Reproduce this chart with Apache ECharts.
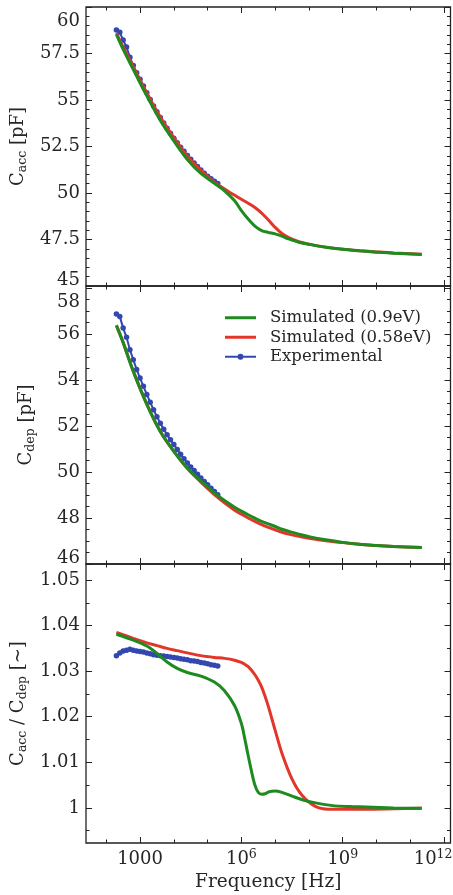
<!DOCTYPE html>
<html><head><meta charset="utf-8">
<script src="https://cdn.jsdelivr.net/npm/echarts@6/dist/echarts.min.js"></script>
<style>html,body{margin:0;padding:0;background:#fff}#c{width:453px;height:895px}</style>
</head><body><div id="c"></div><script>
// ---- data (frequencies given as log10(Hz)) ----
const expLogF = [2.3,2.4,2.5,2.6,2.7,2.8,2.9,3.0,3.1,3.2,3.3,3.4,3.5,3.6,3.7,3.8,3.9,4.0,4.1,4.2,4.3,4.4,4.5,4.6,4.7,4.8,4.9,5.0,5.1,5.2,5.3];
const expCacc = [58.76,58.64,58.22,57.85,57.30,56.85,56.47,56.11,55.75,55.39,55.03,54.68,54.37,54.06,53.77,53.48,53.21,52.94,52.70,52.46,52.24,52.02,51.81,51.61,51.42,51.23,51.06,50.90,50.76,50.63,50.51];
const expCdep = [56.86,56.76,56.25,55.85,55.31,54.88,54.45,54.08,53.72,53.37,53.03,52.70,52.40,52.12,51.86,51.62,51.40,51.19,50.98,50.77,50.57,50.39,50.22,50.06,49.90,49.74,49.59,49.44,49.29,49.15,49.01];
const expRatio = [1.0334,1.0340,1.0344,1.0346,1.0348,1.0346,1.0344,1.0343,1.0342,1.0340,1.0338,1.0336,1.0335,1.0334,1.0333,1.0332,1.0331,1.0330,1.0329,1.0327,1.0326,1.0325,1.0323,1.0322,1.0321,1.0319,1.0318,1.0316,1.0314,1.0313,1.0311];

const simLogF = [2.3,2.5,2.8,3.2,3.6,4.0,4.4,4.8,5.2,5.5,5.8,6.0,6.2,6.4,6.6,6.8,7.0,7.2,7.4,7.7,8.0,8.5,9.0,9.5,10.0,10.5,11.34];
const simCacc09  = [58.53,57.72,56.64,55.22,53.90,52.80,51.80,51.05,50.52,50.12,49.58,49.05,48.60,48.22,47.98,47.88,47.80,47.68,47.53,47.35,47.24,47.08,46.97,46.89,46.82,46.76,46.70];
const simCacc058 = [58.60,57.85,56.78,55.38,54.08,52.98,51.98,51.22,50.58,50.22,49.88,49.66,49.45,49.22,48.92,48.55,48.15,47.82,47.60,47.38,47.25,47.09,46.98,46.90,46.83,46.77,46.71];
const simCdep09  = [56.36,55.62,54.37,52.94,51.76,50.90,50.17,49.61,49.09,48.76,48.47,48.30,48.14,47.99,47.85,47.74,47.63,47.51,47.42,47.30,47.19,47.05,46.94,46.86,46.80,46.76,46.72];
const simCdep058 = [56.38,55.63,54.38,52.95,51.76,50.89,50.15,49.56,49.02,48.66,48.34,48.16,48.00,47.85,47.71,47.59,47.48,47.38,47.30,47.20,47.12,47.01,46.93,46.86,46.80,46.76,46.72];

const ratioLogF = [2.3,2.8,3.2,3.5,3.8,4.1,4.4,4.8,5.2,5.5,5.8,6.0,6.1,6.2,6.3,6.4,6.5,6.6,6.7,6.8,7.0,7.2,7.5,7.8,8.2,8.7,9.2,9.7,10.5,11.34];
const simRatio09  = [1.0381,1.0368,1.0355,1.0339,1.0320,1.0306,1.0297,1.0289,1.0276,1.0257,1.0224,1.0185,1.0152,1.0115,1.0080,1.0050,1.0034,1.0030,1.0031,1.0035,1.0037,1.0034,1.0026,1.0018,1.0011,1.0005,1.0003,1.0002,1.0000,0.9999];
const simRatio058 = [1.0385,1.0372,1.0362,1.0356,1.0350,1.0345,1.0340,1.0334,1.0330,1.0328,1.0324,1.0319,1.0315,1.0310,1.0302,1.0292,1.0280,1.0265,1.0245,1.0222,1.0170,1.0120,1.0063,1.0027,1.0003,0.9997,0.9997,0.9997,0.9998,0.9999];

const xMajorTicks = [3,6,9,12];
const xMinorTicks = [2,4,5,7,8,10,11];
const yMajor1 = [45,47.5,50,52.5,55,57.5,60];
const yMajor2 = [46,48,50,52,54,56,58];
const yMajor3 = [1,1.01,1.02,1.03,1.04,1.05];
const seriesNames = ['Simulated (0.9eV)','Simulated (0.58eV)','Experimental'];
const colors = {g:'#1f8a1f', r:'#e3362b', b:'#3347b0'};

// ---- layout ----
const FONT = 'DejaVu Serif';
const TXT = '#262626';
const LINE = '#222';
const X_MIN = 1.40, X_MAX = 12.19;
const grids = [
  {top:7, height:279, min:45, max:60, majors:yMajor1, step:0.5, name:'{m|C}{s|acc}{m| [pF]}'},
  {top:286, height:278, min:46, max:58.08, majors:yMajor2, step:0.5, name:'{m|C}{s|dep}{m| [pF]}'},
  {top:564, height:279, min:0.9923, max:1.0535, majors:yMajor3, step:0.005, name:'{m|C}{s|acc}{m| / C}{s|dep}{m| [~]}'}
];
function minorsOf(g){
  const out=[];
  const start = Math.ceil(g.min/g.step - 1e-9);
  for(let i=start;i*g.step<=g.max+1e-9;i++){
    const v = +(i*g.step).toFixed(6);
    if(!g.majors.some(m=>Math.abs(m-v)<1e-9)) out.push(v);
  }
  return out;
}
const rich = {
  m:{fontSize:18,fontFamily:FONT,color:TXT,lineHeight:22},
  s:{fontSize:12.5,fontFamily:FONT,color:TXT,lineHeight:12,verticalAlign:'bottom'},
  b:{fontSize:18,fontFamily:FONT,color:TXT,lineHeight:22},
  p:{fontSize:12.5,fontFamily:FONT,color:TXT,lineHeight:14,verticalAlign:'top'},
  gap:{width:22},
  hi:{fontSize:18,fontFamily:FONT,color:TXT,lineHeight:29},
  lo:{fontSize:18,fontFamily:FONT,color:TXT,lineHeight:12}
};
const xAxes=[], yAxes=[], series=[];
grids.forEach((g,gi)=>{
  const last = gi===grids.length-1;
  const baseX = {type:'value', gridIndex:gi, min:X_MIN, max:X_MAX, splitLine:{show:false}, axisLine:{show:false}};
  const mk = (pos, ticks, len, labels) => Object.assign({}, baseX, {
    position:pos,
    axisTick:{show:true, inside:true, length:len, customValues:ticks, lineStyle:{color:LINE,width:1}},
    axisLabel: labels ? {show:true, customValues:ticks, margin:5,
      formatter: v => v===3 ? '{b|1000}' : (v===12 ? '{b|10}{p|12}{gap|}' : '{b|10}{p|'+v+'}'),
      rich:rich} : {show:false}
  });
  const xb = mk('bottom', xMajorTicks, 6, last);
  if(last){ xb.name='Frequency [Hz]'; xb.nameLocation='middle'; xb.nameGap=30;
    xb.nameTextStyle={fontFamily:FONT,fontSize:18.5,color:TXT}; }
  xAxes.push(xb);
  xAxes.push(mk('bottom', xMinorTicks, 3.5, false));
  xAxes.push(mk('top', xMajorTicks, 6, false));
  xAxes.push(mk('top', xMinorTicks, 3.5, false));

  const baseY = {type:'value', gridIndex:gi, min:g.min, max:g.max, splitLine:{show:false}, axisLine:{show:false}};
  const mn = minorsOf(g);
  const lo = g.majors[0], hi = g.majors[g.majors.length-1];
  const mky = (pos, ticks, len, labels) => Object.assign({}, baseY, {
    position:pos,
    axisTick:{show:true, inside:true, length:len, customValues:ticks, lineStyle:{color:LINE,width:1}},
    axisLabel: labels ? (gi<2 ? {show:true, customValues:ticks, margin:6, fontFamily:FONT, fontSize:18, color:TXT,
        verticalAlignMinLabel:'bottom', verticalAlignMaxLabel:'top', rich:rich,
        formatter: v => v===hi ? '{hi|'+v+'}' : (v===lo ? '{lo|'+v+'}' : String(v))}
      : {show:true, customValues:ticks, margin:6, fontFamily:FONT, fontSize:18, color:TXT}) : {show:false}
  });
  const yl = mky('left', g.majors, 6, true);
  yl.name = g.name; yl.nameLocation='middle'; yl.nameGap=49; yl.nameRotate=90;
  yl.nameTextStyle = {rich:rich};
  yAxes.push(yl);
  yAxes.push(mky('left', mn, 3.5, false));
  yAxes.push(mky('right', g.majors, 6, false));
  yAxes.push(mky('right', mn, 3.5, false));

  const pairs = (xs, ys) => xs.map((x,i)=>[x, ys[i]]);
  let expY, simX, sG, sR;
  if(gi===0){ expY=expCacc; simX=simLogF; sG=simCacc09; sR=simCacc058; }
  else if(gi===1){ expY=expCdep; simX=simLogF; sG=simCdep09; sR=simCdep058; }
  else { expY=expRatio; simX=ratioLogF; sG=simRatio09; sR=simRatio058; }
  const common = {type:'line', xAxisIndex:gi*4, yAxisIndex:gi*4, animation:false, silent:true};
  series.push(Object.assign({}, common, {name:seriesNames[2], data:pairs(expLogF, expY), z:2,
    symbol:'circle', symbolSize:5.5, showSymbol:true, color:colors.b,
    lineStyle:{color:colors.b, width:2}, itemStyle:{color:colors.b, borderWidth:0}}));
  series.push(Object.assign({}, common, {name:seriesNames[1], data:pairs(simX, sR), z:3,
    symbol:'none', smooth:0.3, color:colors.r, lineStyle:{color:colors.r, width:3}}));
  series.push(Object.assign({}, common, {name:seriesNames[0], data:pairs(simX, sG), z:4,
    symbol:'none', smooth:0.3, color:colors.g, lineStyle:{color:colors.g, width:3}}));
});

const lineIcon = 'path://M0,0L31,0L31,3L0,3Z';
const dotIcon = 'path://M0,2L12.5,2L12.5,4L0,4Z M18.5,2L31,2L31,4L18.5,4Z M12.5,3a3,3 0 1,1 6,0a3,3 0 1,1 -6,0Z';
const chart = echarts.init(document.getElementById('c'), null, {renderer:'canvas'});
chart.setOption({
  animation:false,
  backgroundColor:'#fff',
  grid: grids.map(g=>({left:86, right:2.5, top:g.top, height:g.height, show:true, borderColor:LINE, borderWidth:1.3,
    backgroundColor:'transparent', containLabel:false, outerBoundsMode:'none'})),
  xAxis:xAxes, yAxis:yAxes, series:series,
  legend:{orient:'vertical', left:220, top:303, itemWidth:31, itemHeight:12, itemGap:0,
    selectedMode:false, itemStyle:{borderWidth:0},
    data:[{name:seriesNames[0], icon:lineIcon},{name:seriesNames[1], icon:lineIcon},{name:seriesNames[2], icon:dotIcon}],
    textStyle:{fontFamily:FONT, fontSize:16.5, color:TXT, lineHeight:19.5, padding:[0,0,0,9]}}
});
</script></body></html>
